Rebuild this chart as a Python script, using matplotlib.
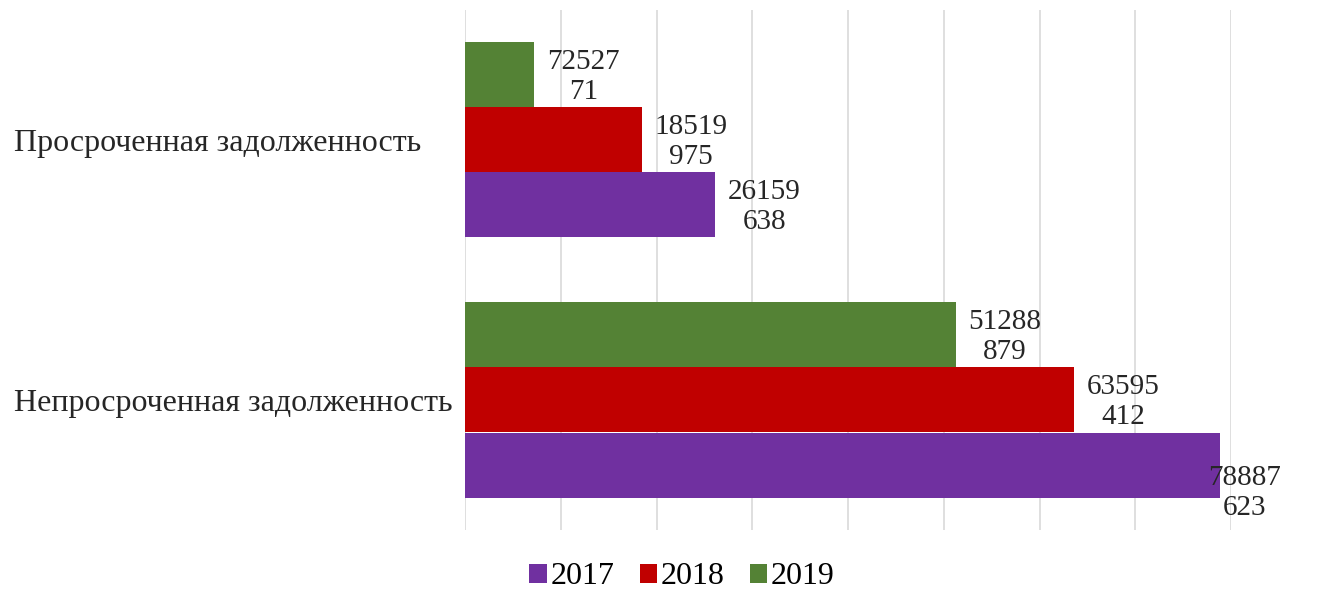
import matplotlib.pyplot as plt
import numpy as np

categories = ['Непросроченная задолженность', 'Просроченная задолженность']
years = ['2017', '2018', '2019']
v2017 = [78887623, 26159638]
v2018 = [63595412, 18519975]
v2019 = [51288879, 7252771]
colors = ['#7030A0', '#C00000', '#548235']

plt.rcParams['font.family'] = ['Liberation Serif', 'DejaVu Serif']
fs = 21

fig = plt.figure(figsize=(13.2, 5.91), dpi=100)
ax = fig.add_axes([465/1320, 1-530/591, (1231-465)/1320, 520/591])

y = np.arange(len(categories))
h = 0.25
series = [v2017, v2018, v2019]
for i, vals in enumerate(series):
    pos = y + (i-1)*h
    ax.barh(pos, vals, height=h, color=colors[i], label=years[i], zorder=2)
    for p, v in zip(pos, vals):
        s = str(v)
        txt = s[:5] + '\n' + s[5:]
        dx, dy = 49, -2
        if v > 0.95*80e6:  # Excel pushes the label back inside the plot area
            dx, dy = 24, -28
        ax.annotate(txt, (v, p), xytext=(dx*0.72, dy*0.72), textcoords='offset points',
                    ha='center', va='center', fontsize=fs, linespacing=1.2, color='#262626')

ax.set_xlim(0, 80e6)
ax.set_ylim(-0.5, 1.5)
ax.set_xticks(np.arange(0, 80e6+1, 10e6))
ax.set_xticklabels([])
ax.grid(axis='x', color='#d9d9d9', linewidth=1.2, zorder=0)
for sp in ax.spines.values():
    sp.set_visible(False)
ax.tick_params(axis='x', length=0)
ax.set_yticks(y)
ax.set_yticklabels(categories, fontsize=23, color='#262626')
ax.tick_params(axis='y', length=0, pad=451*0.72)
for lab in ax.get_yticklabels():
    lab.set_horizontalalignment('left')

fig.legend(loc='center', bbox_to_anchor=(682/1320, 1-577/591), ncol=3, frameon=False,
           fontsize=23, handlelength=0.55, handleheight=0.55, handletextpad=0.1,
           columnspacing=0.8)

fig.savefig('out.png', dpi=100)
